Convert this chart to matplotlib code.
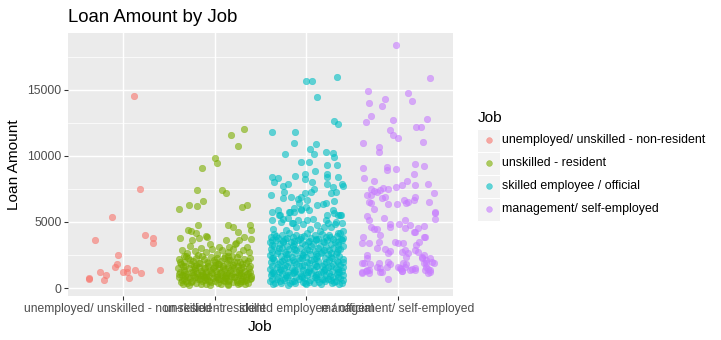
import matplotlib
matplotlib.use("Agg")
import matplotlib.pyplot as plt
import numpy as np
from matplotlib.patches import Rectangle

plt.rcParams["font.family"] = ["Liberation Sans", "DejaVu Sans"]

# job categories, in plotting order
jobs = [
    "unemployed/ unskilled - non-resident",
    "unskilled - resident",
    "skilled employee / official",
    "management/ self-employed",
]
colors = ["#F8766D", "#7CAE00", "#00BFC4", "#C77CFF"]

# (jitter offset, loan amount)
unemployed_pts = [
    (-0.37, 720), (-0.37, 680), (-0.31, 3614), (-0.25, 1212), (-0.21, 606),
    (-0.19, 962), (-0.12, 5356), (-0.09, 1568), (-0.07, 1795), (-0.06, 2477),
    (0.00, 1212), (0.04, 1515), (0.04, 1212), (0.06, 735), (0.12, 14523),
    (0.13, 1364), (0.19, 7477), (0.20, 1111), (0.24, 3992), (0.33, 3765),
    (0.33, 3386), (0.40, 1364),
]

unskilled_pts = [
    # sparse upper points
    (0.32, 12020), (0.18, 11570), (0.25, 10735), (0.00, 9826), (0.02, 9447),
    (-0.14, 9068), (-0.19, 7402), (0.08, 7402), (0.12, 7220), (-0.13, 6568),
    (-0.28, 6288), (-0.19, 6189), (0.30, 6114), (0.35, 6288), (-0.39, 5962),
    # top of the cluster
    (-0.18, 4770), (-0.29, 4390), (-0.26, 4320), (-0.20, 4140), (-0.38, 3765),
    (-0.25, 3640), (-0.17, 3810), (-0.09, 3960), (-0.08, 3890), (0.14, 4770),
    (0.20, 4650), (0.25, 4270), (0.38, 4770), (0.40, 4390), (0.40, 3710),
    (0.32, 3890), (0.27, 3640), (0.23, 3390), (0.12, 3640), (0.05, 3130),
    (0.16, 3130),
    # 2500 - 3300
    (-0.36, 2900), (-0.30, 2650), (-0.22, 2800), (-0.15, 3050), (-0.10, 2700),
    (-0.03, 2950), (0.02, 2600), (0.08, 2850), (0.14, 2700), (0.20, 2950),
    (0.26, 2600), (0.31, 2850), (0.37, 2700), (-0.33, 2450), (-0.18, 2500),
    (0.11, 2400), (0.35, 3100), (-0.05, 3300), (0.22, 3350), (-0.27, 3200),
    # 1800 - 2500
    (-0.39, 2200), (-0.34, 1950), (-0.29, 2300), (-0.24, 2050), (-0.20, 2250),
    (-0.16, 1900), (-0.12, 2200), (-0.08, 2000), (-0.04, 2350), (0.00, 1950),
    (0.03, 2250), (0.07, 2050), (0.10, 2300), (0.13, 1900), (0.17, 2150),
    (0.21, 2000), (0.24, 2350), (0.28, 1950), (0.32, 2200), (0.36, 2050),
    (0.39, 2300), (-0.37, 1800), (-0.26, 1850), (-0.14, 2450), (0.05, 1800),
    (0.15, 2450), (0.30, 1800), (-0.01, 2150), (0.19, 2400), (-0.31, 2400),
    # 1000 - 1800
    (-0.40, 1500), (-0.38, 1200), (-0.35, 1650), (-0.33, 1350), (-0.31, 1050),
    (-0.28, 1550), (-0.26, 1250), (-0.23, 1700), (-0.21, 1400), (-0.19, 1100),
    (-0.17, 1600), (-0.15, 1300), (-0.13, 1000), (-0.11, 1500), (-0.09, 1200),
    (-0.07, 1700), (-0.05, 1400), (-0.03, 1100), (-0.01, 1600), (0.01, 1300),
    (0.03, 1050), (0.05, 1550), (0.07, 1250), (0.09, 1700), (0.11, 1450),
    (0.13, 1150), (0.15, 1600), (0.17, 1350), (0.19, 1050), (0.21, 1500),
    (0.23, 1250), (0.25, 1700), (0.27, 1400), (0.29, 1100), (0.31, 1600),
    (0.33, 1300), (0.35, 1050), (0.37, 1500), (0.39, 1250), (-0.36, 1000),
    (0.00, 1750), (0.20, 1750), (-0.20, 1750), (0.12, 1000), (-0.24, 1000),
    (-0.38, 2000), (-0.32, 1700), (-0.27, 2100), (-0.22, 1500), (-0.17, 1900),
    (-0.12, 1550), (-0.07, 1900), (-0.02, 1500), (0.04, 1850), (0.09, 1550),
    (0.14, 2100), (0.19, 1600), (0.24, 1950), (0.29, 1550), (0.34, 1900),
    (0.39, 1650),
    # 250 - 1250
    (-0.39, 800), (-0.37, 450), (-0.34, 650), (-0.32, 900), (-0.30, 350),
    (-0.27, 750), (-0.25, 550), (-0.22, 850), (-0.20, 400), (-0.18, 700),
    (-0.16, 950), (-0.14, 500), (-0.12, 800), (-0.10, 300), (-0.08, 650),
    (-0.06, 900), (-0.04, 450), (-0.02, 750), (0.00, 550), (0.02, 850),
    (0.04, 350), (0.06, 700), (0.08, 950), (0.10, 500), (0.12, 750),
    (0.14, 300), (0.16, 600), (0.18, 900), (0.20, 450), (0.22, 800),
    (0.24, 600), (0.26, 950), (0.28, 400), (0.30, 700), (0.32, 550),
    (0.34, 850), (0.36, 400), (0.38, 700), (0.40, 900), (-0.28, 250),
    (-0.05, 250), (0.15, 250), (0.33, 300), (-0.15, 300), (0.07, 280),
    (-0.35, 280), (0.25, 320), (-0.09, 950), (0.11, 900), (0.29, 950),
    (-0.39, 1050), (-0.34, 1250), (-0.29, 850), (-0.24, 1250), (-0.19, 850),
    (-0.14, 1150), (-0.09, 800), (-0.04, 1200), (0.01, 850), (0.06, 1150),
    (0.11, 750), (0.16, 1150), (0.21, 850), (0.26, 1150), (0.31, 850),
    (0.36, 1150), (0.40, 750), (-0.36, 600), (-0.26, 450), (-0.16, 650),
    (-0.06, 550), (0.04, 650), (0.14, 550), (0.24, 450), (0.34, 600),
    (-0.31, 550), (-0.11, 600), (0.09, 600), (0.29, 550),
]

skilled_pts = [
    # sparse upper points
    (0.00, 15660), (0.06, 15660), (0.33, 15960), (0.12, 14450), (0.30, 12630),
    (0.34, 12400), (-0.38, 11800), (-0.12, 11800), (-0.13, 10960), (0.10, 10890),
    (0.04, 10510), (-0.23, 10150), (0.08, 10130), (0.21, 10330), (0.29, 10250),
    (0.30, 9900), (-0.06, 9570), (0.03, 9570), (0.23, 9320), (0.33, 9320),
    (0.09, 8840), (-0.38, 8390), (-0.31, 8310), (-0.35, 8010), (-0.12, 8485),
    (-0.01, 8640), (-0.02, 8240), (0.22, 8640), (0.23, 8430), (0.35, 8390),
    (-0.26, 7750), (-0.20, 7880), (-0.24, 7300), (0.06, 8050), (0.08, 7480),
    (0.05, 7300), (0.23, 7850), (0.29, 7670), (0.39, 7850), (0.40, 7730),
    (0.32, 7300), (0.27, 7170), (-0.39, 7045), (-0.26, 6800), (-0.17, 6920),
    (-0.09, 6720), (-0.06, 6920), (-0.02, 7220), (0.01, 6670), (-0.08, 6420),
    (0.12, 6290), (0.18, 6360), (0.21, 6420), (0.30, 6590),
    # 5000 - 6200
    (-0.38, 5780), (-0.31, 5910), (-0.37, 5150), (-0.29, 5530), (-0.19, 5780),
    (-0.13, 6040), (-0.06, 5960), (0.00, 6160), (0.03, 5910), (0.23, 5530),
    (0.30, 5700), (0.35, 5530), (0.37, 5530), (-0.18, 5730), (-0.13, 5730),
    (-0.06, 5890), (0.29, 5890), (0.38, 5500), (-0.30, 5500),
    # 4100 - 5300
    (-0.28, 5020), (-0.20, 5280), (-0.15, 4950), (-0.09, 5150), (-0.04, 4850),
    (0.01, 5150), (0.07, 5200), (0.12, 4770), (0.21, 5150), (0.27, 4650),
    (0.32, 5020), (0.39, 4950), (-0.25, 5200), (-0.16, 4900), (0.24, 4900),
    (0.19, 4600), (0.31, 4830), (0.40, 4300), (0.35, 4140), (-0.36, 4500),
    (-0.22, 4400), (-0.11, 4600), (0.04, 4450), (0.15, 4350),
    # dense block below 4200
    (-0.39, 3900), (-0.35, 4100), (-0.31, 3800), (-0.27, 4000), (-0.23, 3750),
    (-0.19, 4150), (-0.15, 3850), (-0.11, 4050), (-0.07, 3700), (-0.03, 3950),
    (0.01, 4150), (0.05, 3800), (0.09, 4000), (0.13, 3750), (0.17, 4100),
    (0.21, 3850), (0.25, 4050), (0.29, 3700), (0.33, 3950), (0.37, 4150),
    (0.40, 3800),
    (-0.38, 3600), (-0.33, 3950), (-0.26, 3450), (-0.21, 3800), (-0.14, 3550),
    (-0.06, 3850), (0.02, 3450), (0.10, 3700), (0.18, 3550), (0.26, 3850),
    (0.34, 3450), (0.38, 3750),
    (-0.40, 3450), (-0.37, 3250), (-0.33, 3600), (-0.29, 3350), (-0.25, 3550),
    (-0.21, 3200), (-0.17, 3500), (-0.13, 3300), (-0.09, 3650), (-0.05, 3400),
    (-0.01, 3250), (0.03, 3550), (0.07, 3350), (0.11, 3600), (0.15, 3200),
    (0.19, 3450), (0.23, 3650), (0.27, 3300), (0.31, 3500), (0.35, 3250),
    (0.39, 3600),
    (-0.39, 2950), (-0.35, 3150), (-0.31, 2800), (-0.27, 3050), (-0.23, 2750),
    (-0.19, 2950), (-0.15, 3150), (-0.11, 2850), (-0.07, 3050), (-0.03, 2700),
    (0.01, 2950), (0.05, 3150), (0.09, 2800), (0.13, 3000), (0.17, 2750),
    (0.21, 3100), (0.25, 2850), (0.29, 3050), (0.33, 2750), (0.37, 2950),
    (0.40, 3150),
    (-0.37, 2700), (-0.30, 3000), (-0.22, 2600), (-0.13, 2950), (-0.05, 2600),
    (0.03, 2850), (0.11, 2600), (0.19, 2900), (0.27, 2650), (0.35, 2950),
    (-0.40, 2500), (-0.36, 2300), (-0.32, 2650), (-0.28, 2400), (-0.24, 2200),
    (-0.20, 2550), (-0.16, 2350), (-0.12, 2650), (-0.08, 2250), (-0.04, 2500),
    (0.00, 2350), (0.04, 2600), (0.08, 2200), (0.12, 2450), (0.16, 2650),
    (0.20, 2300), (0.24, 2550), (0.28, 2250), (0.32, 2600), (0.36, 2400),
    (0.40, 2200),
    (-0.38, 2250), (-0.29, 1950), (-0.21, 2300), (-0.13, 2000), (-0.05, 2250),
    (0.03, 1900), (0.11, 2250), (0.19, 1850), (0.27, 2350), (0.35, 1950),
    (-0.39, 1950), (-0.35, 2150), (-0.31, 1800), (-0.27, 2050), (-0.23, 1750),
    (-0.19, 2000), (-0.15, 2150), (-0.11, 1850), (-0.07, 2100), (-0.03, 1750),
    (0.01, 1950), (0.05, 2150), (0.09, 1800), (0.13, 2050), (0.17, 1700),
    (0.21, 1950), (0.25, 2150), (0.29, 1850), (0.33, 2050), (0.37, 1750),
    (0.40, 2000),
    (-0.37, 1700), (-0.29, 1450), (-0.21, 1650), (-0.13, 1400), (-0.05, 1700),
    (0.03, 1350), (0.11, 1700), (0.19, 1400), (0.27, 1700), (0.35, 1450),
    (-0.40, 1450), (-0.36, 1250), (-0.32, 1600), (-0.28, 1350), (-0.24, 1550),
    (-0.20, 1200), (-0.16, 1500), (-0.12, 1300), (-0.08, 1650), (-0.04, 1400),
    (0.00, 1200), (0.04, 1550), (0.08, 1350), (0.12, 1650), (0.16, 1250),
    (0.20, 1450), (0.24, 1600), (0.28, 1300), (0.32, 1500), (0.36, 1250),
    (0.40, 1600),
    (-0.38, 1100), (-0.30, 1250), (-0.22, 1000), (-0.14, 1250), (-0.06, 900),
    (0.02, 1250), (0.10, 1000), (0.18, 1200), (0.26, 900), (0.34, 1200),
    (0.39, 1300),
    (-0.39, 950), (-0.35, 1150), (-0.31, 800), (-0.27, 1050), (-0.23, 750),
    (-0.19, 1000), (-0.15, 1150), (-0.11, 850), (-0.07, 1100), (-0.03, 750),
    (0.01, 950), (0.05, 1150), (0.09, 800), (0.13, 1050), (0.17, 700),
    (0.21, 950), (0.25, 1150), (0.29, 850), (0.33, 1050), (0.37, 750),
    (0.40, 1000),
    (-0.37, 700), (-0.29, 500), (-0.21, 800), (-0.13, 550), (-0.05, 800),
    (0.03, 450), (0.11, 800), (0.19, 700), (0.27, 600), (0.35, 800),
    (0.39, 400), (-0.34, 400), (-0.18, 400), (-0.02, 350), (0.14, 450),
    (0.30, 450),
    (-0.40, 500), (-0.36, 300), (-0.32, 650), (-0.28, 400), (-0.24, 600),
    (-0.20, 250), (-0.16, 550), (-0.12, 350), (-0.08, 650), (-0.04, 450),
    (0.00, 280), (0.04, 600), (0.08, 400), (0.12, 650), (0.16, 300),
    (0.20, 500), (0.24, 650), (0.28, 350), (0.32, 550), (0.36, 300),
    (0.40, 600),
]

management_pts = [
    (-0.02, 18386), (0.35, 15886), (-0.33, 14900), (0.11, 14770), (-0.14, 14294),
    (-0.32, 14015), (0.15, 14142), (-0.17, 13763), (-0.29, 13005), (-0.35, 12550),
    (-0.05, 12702), (0.32, 12778), (0.20, 12172), (0.25, 12172), (-0.09, 11945),
    (-0.06, 11570), (0.00, 11343), (0.27, 11040), (-0.38, 10960), (-0.21, 10660),
    (-0.21, 10330), (-0.38, 9070), (-0.12, 9140), (-0.12, 8960), (-0.02, 8990),
    (0.18, 9370), (0.28, 9270), (-0.37, 8310), (-0.26, 8080), (0.17, 8610),
    (0.10, 8080), (0.04, 7780), (-0.02, 7630), (0.19, 7780), (0.33, 7860),
    (0.39, 7170), (-0.30, 7500), (-0.26, 7350), (-0.29, 7045), (-0.23, 7300),
    (-0.34, 7045), (-0.16, 7600), (-0.11, 7500), (-0.14, 6920), (-0.18, 6800),
    (-0.20, 7420), (-0.32, 6540), (-0.29, 6420), (-0.26, 5990), (-0.11, 6360),
    (-0.01, 6360), (0.07, 6670), (0.11, 6540), (0.17, 6670), (0.18, 6920),
    (0.09, 6420), (0.34, 6490), (0.40, 5740), (-0.34, 5450), (-0.32, 5150),
    (-0.15, 5280), (-0.09, 4850), (-0.09, 4600), (0.01, 4850), (0.08, 5150),
    (0.08, 4520), (0.13, 4770), (0.17, 4270), (0.22, 4520), (0.28, 4700),
    (0.19, 4270), (0.40, 5700), (0.40, 5200), (-0.30, 4600), (-0.26, 4450),
    (-0.23, 4450), (-0.20, 4020), (-0.21, 3510), (-0.38, 3840), (-0.39, 3390),
    (-0.32, 3390), (-0.03, 3510), (0.00, 3430), (0.06, 3390), (0.20, 3260),
    (0.23, 3510), (0.28, 3840), (0.29, 3840), (-0.23, 3010), (-0.14, 2930),
    (-0.11, 2670), (-0.09, 2830), (-0.34, 2500), (-0.34, 2250), (0.04, 2750),
    (0.08, 2880), (0.11, 2630), (0.09, 2370), (0.19, 2880), (0.22, 2750),
    (0.26, 2370), (0.28, 2500), (0.31, 2120), (0.35, 2250), (0.39, 1920),
    (-0.39, 1920), (-0.37, 1870), (-0.31, 1820), (-0.21, 1870), (-0.20, 1490),
    (-0.11, 1990), (-0.09, 1820), (-0.39, 1240), (-0.34, 1360), (-0.32, 1160),
    (-0.23, 1570), (-0.20, 1240), (-0.12, 1570), (0.02, 1490), (0.04, 1310),
    (0.08, 1610), (0.13, 1360), (0.19, 1360), (0.18, 1490), (0.29, 1360),
    (0.33, 1420), (0.35, 1240), (-0.11, 680), (0.00, 1610), (0.06, 1870),
    (0.09, 1820), (0.26, 2250), (0.28, 1870), (0.31, 1870), (-0.18, 1190),
    (-0.32, 1340), (-0.39, 1110), (-0.35, 1260), (0.03, 1420), (0.04, 1260),
    (0.15, 1420), (0.30, 1570), (0.33, 1110), (0.35, 1340), (0.37, 1950),
]

all_pts = [unemployed_pts, unskilled_pts, skilled_pts, management_pts]

W, H = 721, 340
fig = plt.figure(figsize=(W / 96, H / 96), dpi=96)
ax = fig.add_axes([68 / W, 1 - 296 / H, (453 - 68) / W, (296 - 33) / H])
ax.set_facecolor("#EBEBEB")
for s in ax.spines.values():
    s.set_visible(False)

for i, pts in enumerate(all_pts):
    arr = np.array(pts, dtype=float)
    ax.scatter(i + 1 + arr[:, 0], arr[:, 1], s=24, color=colors[i], alpha=0.6,
               edgecolors=colors[i], linewidths=0.4, zorder=3)

ax.set_xlim(0.4, 4.6)
ax.set_ylim(-606, 19318)
ax.set_xticks([1, 2, 3, 4])
ax.set_xticklabels(jobs)
ax.set_yticks([0, 5000, 10000, 15000])
ax.set_yticklabels(["0", "5000", "10000", "15000"])
ax.set_yticks([2500, 7500, 12500, 17500], minor=True)
ax.grid(which="major", color="white", lw=1.1)
ax.grid(which="minor", axis="y", color="white", lw=0.55)
ax.set_axisbelow(True)
ax.tick_params(which="major", length=2.75, width=0.8, color="#333333",
               labelsize=9.1, labelcolor="#4D4D4D", pad=2.2)
ax.tick_params(which="minor", length=0)

# titles
fig.text(68 / W, 1 - 22 / H, "Loan Amount by Job", fontsize=14, va="baseline")
fig.text(14.5 / W, 1 - 165 / H, "Loan Amount", rotation=90, fontsize=11.5,
         ha="center", va="center")
fig.text(260.5 / W, 1 - 327 / H, "Job", fontsize=11.5, ha="center", va="center")

# legend drawn by hand in pixel coordinates
lg = fig.add_axes([0, 0, 1, 1], facecolor="none")
lg.set_xlim(0, W)
lg.set_ylim(H, 0)
lg.axis("off")
lg.text(478, 118, "Job", fontsize=11.5, va="center")
for i, lab in enumerate(jobs):
    cy = 140 + i * 23
    lg.add_patch(Rectangle((477, cy - 11.5), 23, 23, facecolor="#F2F2F2",
                           edgecolor="white", lw=0.8))
    lg.scatter([488.5], [cy], s=19, color=colors[i], alpha=0.6,
               edgecolors=colors[i], linewidths=0.4)
    lg.text(502, cy, lab, fontsize=9.3, va="center")

fig.savefig("out.png", dpi=96)
